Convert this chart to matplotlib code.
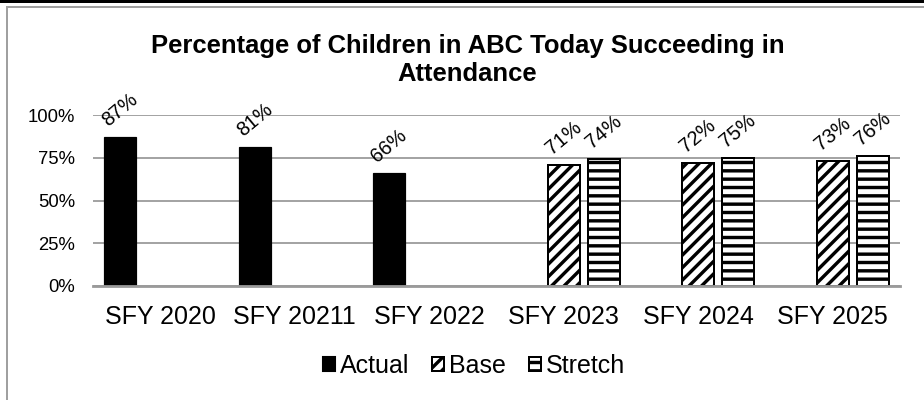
import matplotlib
matplotlib.use("Agg")
import matplotlib.pyplot as plt
import matplotlib.patches as mpatches
import numpy as np

categories = ["SFY 2020", "SFY 20211", "SFY 2022", "SFY 2023", "SFY 2024", "SFY 2025"]
actual = [0.87, 0.81, 0.66, np.nan, np.nan, np.nan]
base = [np.nan, np.nan, np.nan, 0.71, 0.72, 0.73]
stretch = [np.nan, np.nan, np.nan, 0.74, 0.75, 0.76]
series_names = ["Actual", "Base", "Stretch"]
yticks = [0, 0.25, 0.5, 0.75, 1.0]
ytick_labels = ["0%", "25%", "50%", "75%", "100%"]
title = "Percentage of Children in ABC Today Succeeding in\nAttendance"

DPI = 150
def pt(px):
    return px * 72.0 / DPI

plt.rcParams['font.family'] = ['Liberation Sans', 'DejaVu Sans']
plt.rcParams['hatch.linewidth'] = pt(3.4)

fig = plt.figure(figsize=(924 / DPI, 400 / DPI), dpi=DPI)
ax = fig.add_axes([93/924, 1-286/400, (900-93)/924, (286-115)/400])

x = np.arange(len(categories))
w = 32/134.5
off = 40/134.5
gridc = "#9a9a9a"

ax.set_axisbelow(True)
ax.yaxis.grid(True, color=gridc, linewidth=pt(1.8))
ax.bar(x - off, actual, w, color="black", edgecolor="black", linewidth=pt(1.2), zorder=3)
ax.bar(x, base, w, color="white", edgecolor="black", hatch="////", linewidth=pt(2.0), zorder=3)
ax.bar(x + off, stretch, w, color="white", edgecolor="black", hatch="---", linewidth=pt(2.0), zorder=3)

for xs, vals in [(x - off, actual), (x, base), (x + off, stretch)]:
    for xi, v in zip(xs, vals):
        if not np.isnan(v):
            ax.annotate(f"{v*100:.0f}%", (xi, v), xytext=(0, pt(7)), textcoords="offset points",
                        ha="center", va="bottom", rotation=40, fontsize=pt(20), color="black")

ax.set_xlim(-0.5, len(categories) - 0.5)
ax.set_ylim(0, 1.0)
ax.set_yticks(yticks)
ax.set_yticklabels(ytick_labels, fontsize=pt(18.5))
ax.set_xticks(x)
ax.set_xticklabels(categories, fontsize=pt(25))
ax.tick_params(axis="both", length=0)
ax.tick_params(axis="y", pad=pt(18))
ax.tick_params(axis="x", pad=pt(19))
for s in ["top", "right", "left"]:
    ax.spines[s].set_visible(False)
ax.spines["bottom"].set_color(gridc)
ax.spines["bottom"].set_linewidth(pt(2.8))
ax.spines["bottom"].set_zorder(4)

fig.text(0.506, 1-34/400, title, ha="center", va="top", fontsize=pt(25.6), fontweight="bold",
         linespacing=1.2)

handles = [mpatches.Patch(facecolor="black", edgecolor="black"),
           mpatches.Patch(facecolor="white", edgecolor="black", hatch="////", linewidth=pt(2.0)),
           mpatches.Patch(facecolor="white", edgecolor="black", hatch="---", linewidth=pt(2.0))]
fig.legend(handles, series_names, loc="center", bbox_to_anchor=(0.513, 1-366/400), ncol=3,
           frameon=False, fontsize=pt(25), handlelength=0.5, handleheight=0.5,
           handletextpad=0.2, columnspacing=0.9, borderaxespad=0)

# outer frame
fig.add_artist(mpatches.Rectangle((0, 1-2.5/400), 1, 2.5/400, transform=fig.transFigure,
                                  facecolor="black", edgecolor="none"))
fig.add_artist(plt.Line2D([7/924, 7/924], [0, 1-7/400], transform=fig.transFigure,
                          color="#a0a0a0", linewidth=pt(2)))
fig.add_artist(plt.Line2D([7/924, 1], [1-7/400, 1-7/400], transform=fig.transFigure,
                          color="#a0a0a0", linewidth=pt(2)))

fig.savefig("out.png", dpi=DPI)
